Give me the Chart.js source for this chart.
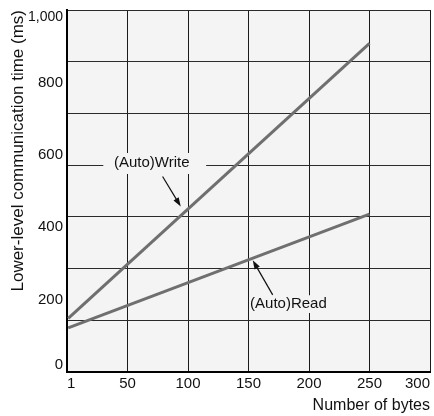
<!DOCTYPE html>
<html lang="en">
<head>
<meta charset="utf-8">
<script src="https://cdn.jsdelivr.net/npm/chart.js@4.4.0/dist/chart.umd.min.js"></script>
<style>
    html, body { margin: 0; padding: 0; background: #fff; }
    .chart-box { position: relative; width: 434px; height: 416px; }
</style>
</head>
<body>
<div class="chart-box"><canvas id="myChart"></canvas></div>
<script>
// data
const bytes = [1, 250];
const writeMs = [148, 908];
const readMs = [122, 436];

const xTicks = [0, 50, 100, 150, 200, 250, 300];
const xTickLabels = ['1', '50', '100', '150', '200', '250', '300'];
const yTicks = [0, 200, 400, 600, 800, 1000];
const yTickLabels = ['0', '200', '400', '600', '800', '1,000'];

// callouts in data units: label centre, arrow tail/tip, box hiding the grid
const callouts = [
    { text: '(Auto)Write', x: 70, y: 577, from: [79, 540], to: [94, 457], mask: [30, 115, 547, 605] },
    { text: '(Auto)Read', x: 183, y: 189, from: [170, 213], to: [153.5, 309], mask: [150.5, 215.5, 163, 212] }
];

const FONT = "'Liberation Sans', Arial, Helvetica, sans-serif";
const PLOT_BG = '#f4f4f4';
const LINE = '#6f6f6f';

const calloutPlugin = {
    id: 'callout',
    afterLayout(chart) {
        // the end-label axes take no room, but their labels must not be clipped away
        ['yTop', 'yBottom'].forEach(id => { chart.scales[id].left = 0; });
    },
    beforeDraw(chart) {
        const a = chart.chartArea, ctx = chart.ctx;
        ctx.save();
        ctx.fillStyle = PLOT_BG;
        ctx.fillRect(a.left, a.top, a.right - a.left, a.bottom - a.top);
        ctx.restore();
    },
    afterDraw(chart) {
        const ctx = chart.ctx, sx = chart.scales.x, sy = chart.scales.y;
        ctx.save();
        callouts.forEach(c => {
            // hide the grid behind the label
            const x0 = sx.getPixelForValue(c.mask[0]), x1 = sx.getPixelForValue(c.mask[1]);
            const y0 = sy.getPixelForValue(c.mask[3]), y1 = sy.getPixelForValue(c.mask[2]);
            ctx.fillStyle = PLOT_BG;
            ctx.fillRect(x0, y0, x1 - x0, y1 - y0);

            ctx.fillStyle = '#111';
            ctx.font = '15px ' + FONT;
            ctx.textAlign = 'center';
            ctx.textBaseline = 'middle';
            ctx.fillText(c.text, sx.getPixelForValue(c.x), sy.getPixelForValue(c.y));

            // arrow
            const fx = sx.getPixelForValue(c.from[0]), fy = sy.getPixelForValue(c.from[1]);
            const tx = sx.getPixelForValue(c.to[0]), ty = sy.getPixelForValue(c.to[1]);
            const ang = Math.atan2(ty - fy, tx - fx);
            ctx.strokeStyle = '#111';
            ctx.lineWidth = 1.2;
            ctx.beginPath();
            ctx.moveTo(fx, fy);
            ctx.lineTo(tx - 6 * Math.cos(ang), ty - 6 * Math.sin(ang));
            ctx.stroke();
            ctx.beginPath();
            ctx.moveTo(tx, ty);
            ctx.lineTo(tx - 9 * Math.cos(ang) + 3 * Math.sin(ang), ty - 9 * Math.sin(ang) - 3 * Math.cos(ang));
            ctx.lineTo(tx - 9 * Math.cos(ang) - 3 * Math.sin(ang), ty - 9 * Math.sin(ang) + 3 * Math.cos(ang));
            ctx.closePath();
            ctx.fillStyle = '#111';
            ctx.fill();
        });
        ctx.restore();
    }
};

// y labels: middle ones centred, the end ones kept inside the plot (0 above, 1,000 below)
function yLabelAxis(values, align, size) {
    return {
        type: 'linear',
        position: 'left',
        weight: 0,
        min: 0,
        max: 1000,
        afterBuildTicks: s => { s.ticks = values.map(v => ({ value: v })); },
        afterFit: s => { s.width = 0; s.paddingTop = 0; s.paddingBottom = 0; },
        grid: { display: false, drawTicks: false },
        border: { display: false },
        ticks: {
            align: align,
            padding: 4,
            color: '#111',
            font: { family: FONT, size: size },
            callback: v => yTickLabels[yTicks.indexOf(v)]
        }
    };
}

const ctx = document.getElementById('myChart').getContext('2d');
const myChart = new Chart(ctx, {
    type: 'line',
    data: {
        datasets: [{
            label: '(Auto)Write',
            data: bytes.map((b, i) => ({ x: b, y: writeMs[i] })),
            borderColor: LINE,
            borderWidth: 3,
            pointRadius: 0,
            fill: false
        }, {
            label: '(Auto)Read',
            data: bytes.map((b, i) => ({ x: b, y: readMs[i] })),
            borderColor: LINE,
            borderWidth: 3,
            pointRadius: 0,
            fill: false
        }]
    },
    options: {
        responsive: true,
        maintainAspectRatio: false,
        animation: false,
        events: [],
        layout: { padding: { left: 0, right: 4, top: 10, bottom: 0 } },
        plugins: { legend: { display: false }, tooltip: { enabled: false } },
        scales: {
            x: {
                type: 'linear',
                min: 0,
                max: 300,
                afterBuildTicks: s => { s.ticks = xTicks.map(v => ({ value: v })); },
                afterFit: s => { s.height = 44; s.paddingLeft = 0; s.paddingRight = 0; },
                grid: { color: '#1a1a1a', lineWidth: 1, drawTicks: false },
                border: { display: true, color: '#000', width: 2 },
                ticks: {
                    align: 'inner',
                    padding: 3,
                    color: '#111',
                    maxRotation: 0,
                    font: { family: FONT, size: 15 },
                    callback: (v, i) => xTickLabels[i]
                },
                title: {
                    display: true,
                    text: 'Number of bytes',
                    align: 'end',
                    color: '#111',
                    font: { family: FONT, size: 16 },
                    padding: { top: 0, bottom: 1 }
                }
            },
            y: {
                type: 'linear',
                position: 'left',
                weight: 5,
                min: 0,
                max: 1000,
                afterBuildTicks: s => { s.ticks = yTicks.slice(1, -1).map(v => ({ value: v })); },
                afterFit: s => { s.width = 67; s.paddingTop = 0; s.paddingBottom = 0; },
                grid: { display: false, drawTicks: false },
                border: { display: true, color: '#000', width: 2 },
                ticks: {
                    padding: 4,
                    color: '#111',
                    font: { family: FONT, size: 15 },
                    callback: v => yTickLabels[yTicks.indexOf(v)]
                },
                title: {
                    display: true,
                    text: 'Lower-level communication time (ms)',
                    align: 'end',
                    color: '#111',
                    font: { family: FONT, size: 17 },
                    padding: { top: 8, bottom: 0 }
                }
            },
            yBottom: yLabelAxis([yTicks[0]], 'end', 15),
            yTop: yLabelAxis([yTicks[yTicks.length - 1]], 'start', 14),
            yGrid: {
                type: 'linear',
                position: 'left',
                weight: 0,
                min: 0,
                max: 1000,
                afterFit: s => { s.width = 0; },
                grid: { color: '#2a2a2a', lineWidth: 1, drawTicks: false },
                border: { display: false },
                ticks: { display: false, count: 8 }
            }
        }
    },
    plugins: [calloutPlugin]
});
</script>
</body>
</html>
